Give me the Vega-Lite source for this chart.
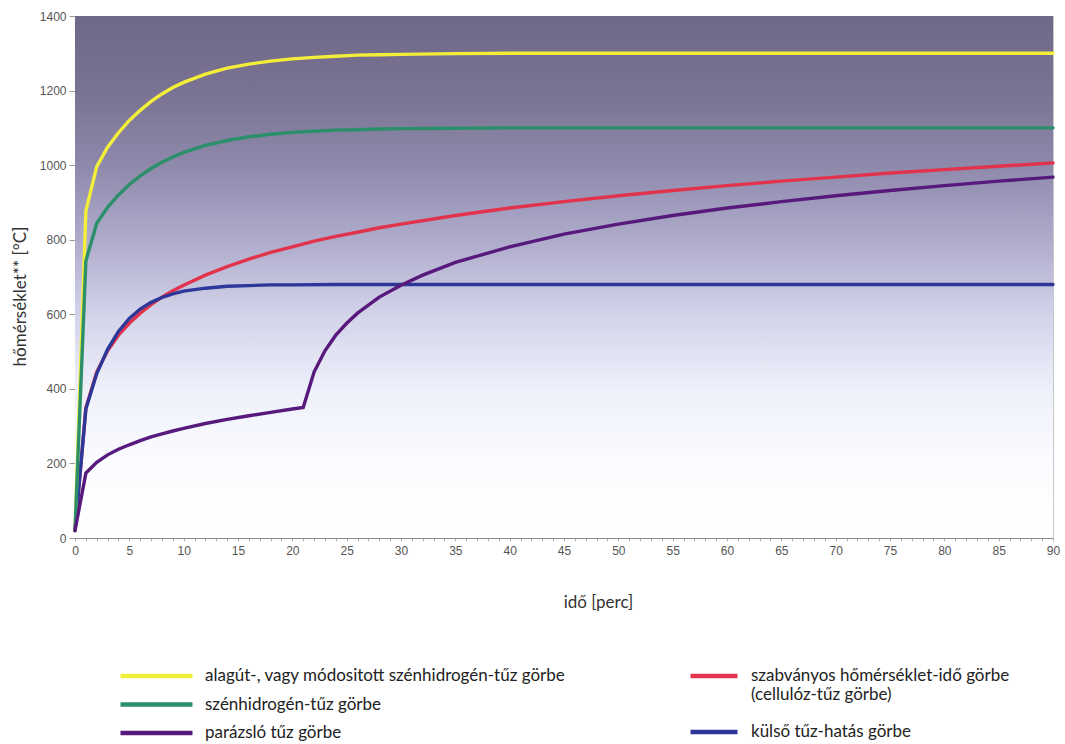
{
  "$schema": "https://vega.github.io/schema/vega-lite/v6.json",
  "width": 978,
  "height": 522,
  "autosize": "none",
  "padding": {"left": 75, "top": 16, "right": 12, "bottom": 206},
  "background": "white",
  "config": {
    "view": {"stroke": "#c8c8c8"},
    "axis": {"labelFont": "Liberation Sans", "labelFontSize": 12, "labelColor": "#555555", "titleFont": "Lato", "titleFontSize": 17, "titleFontWeight": "normal", "titleColor": "#333333"}
  },
  "data": {"values": [
    {"s":"Y","t":0,"v":20},{"s":"Y","t":1,"v":877},{"s":"Y","t":2,"v":996},{"s":"Y","t":3,"v":1048},{"s":"Y","t":4,"v":1087},{"s":"Y","t":5,"v":1120},{"s":"Y","t":6,"v":1147},{"s":"Y","t":7,"v":1171},{"s":"Y","t":8,"v":1191},{"s":"Y","t":9,"v":1208},{"s":"Y","t":10,"v":1222},{"s":"Y","t":12,"v":1244},{"s":"Y","t":14,"v":1260},{"s":"Y","t":16,"v":1271},{"s":"Y","t":18,"v":1279},{"s":"Y","t":20,"v":1285},{"s":"Y","t":22,"v":1289},{"s":"Y","t":24,"v":1292},{"s":"Y","t":26,"v":1295},{"s":"Y","t":28,"v":1296},{"s":"Y","t":30,"v":1297},{"s":"Y","t":35,"v":1299},{"s":"Y","t":40,"v":1300},{"s":"Y","t":45,"v":1300},{"s":"Y","t":50,"v":1300},{"s":"Y","t":60,"v":1300},{"s":"Y","t":70,"v":1300},{"s":"Y","t":80,"v":1300},{"s":"Y","t":90,"v":1300},
    {"s":"G","t":0,"v":20},{"s":"G","t":1,"v":743},{"s":"G","t":2,"v":844},{"s":"G","t":3,"v":887},{"s":"G","t":4,"v":920},{"s":"G","t":5,"v":948},{"s":"G","t":6,"v":971},{"s":"G","t":7,"v":991},{"s":"G","t":8,"v":1008},{"s":"G","t":9,"v":1022},{"s":"G","t":10,"v":1034},{"s":"G","t":12,"v":1053},{"s":"G","t":14,"v":1066},{"s":"G","t":16,"v":1076},{"s":"G","t":18,"v":1083},{"s":"G","t":20,"v":1088},{"s":"G","t":22,"v":1091},{"s":"G","t":24,"v":1094},{"s":"G","t":26,"v":1095},{"s":"G","t":28,"v":1097},{"s":"G","t":30,"v":1098},{"s":"G","t":35,"v":1099},{"s":"G","t":40,"v":1100},{"s":"G","t":45,"v":1100},{"s":"G","t":50,"v":1100},{"s":"G","t":60,"v":1100},{"s":"G","t":70,"v":1100},{"s":"G","t":80,"v":1100},{"s":"G","t":90,"v":1100},
    {"s":"R","t":0,"v":20},{"s":"R","t":1,"v":349},{"s":"R","t":2,"v":445},{"s":"R","t":3,"v":502},{"s":"R","t":4,"v":544},{"s":"R","t":5,"v":576},{"s":"R","t":6,"v":603},{"s":"R","t":7,"v":626},{"s":"R","t":8,"v":646},{"s":"R","t":9,"v":663},{"s":"R","t":10,"v":678},{"s":"R","t":12,"v":705},{"s":"R","t":14,"v":728},{"s":"R","t":16,"v":748},{"s":"R","t":18,"v":766},{"s":"R","t":20,"v":781},{"s":"R","t":22,"v":796},{"s":"R","t":24,"v":809},{"s":"R","t":26,"v":820},{"s":"R","t":28,"v":832},{"s":"R","t":30,"v":842},{"s":"R","t":35,"v":865},{"s":"R","t":40,"v":885},{"s":"R","t":45,"v":902},{"s":"R","t":50,"v":918},{"s":"R","t":55,"v":932},{"s":"R","t":60,"v":945},{"s":"R","t":65,"v":957},{"s":"R","t":70,"v":968},{"s":"R","t":75,"v":979},{"s":"R","t":80,"v":988},{"s":"R","t":85,"v":997},{"s":"R","t":90,"v":1006},
    {"s":"B","t":0,"v":20},{"s":"B","t":1,"v":346},{"s":"B","t":2,"v":441},{"s":"B","t":3,"v":506},{"s":"B","t":4,"v":554},{"s":"B","t":5,"v":589},{"s":"B","t":6,"v":614},{"s":"B","t":7,"v":632},{"s":"B","t":8,"v":645},{"s":"B","t":9,"v":655},{"s":"B","t":10,"v":662},{"s":"B","t":12,"v":670},{"s":"B","t":14,"v":675},{"s":"B","t":16,"v":677},{"s":"B","t":18,"v":679},{"s":"B","t":20,"v":679},{"s":"B","t":24,"v":680},{"s":"B","t":30,"v":680},{"s":"B","t":40,"v":680},{"s":"B","t":50,"v":680},{"s":"B","t":60,"v":680},{"s":"B","t":70,"v":680},{"s":"B","t":80,"v":680},{"s":"B","t":90,"v":680},
    {"s":"P","t":0,"v":20},{"s":"P","t":1,"v":174},{"s":"P","t":2,"v":203},{"s":"P","t":3,"v":223},{"s":"P","t":4,"v":238},{"s":"P","t":5,"v":250},{"s":"P","t":6,"v":261},{"s":"P","t":7,"v":271},{"s":"P","t":8,"v":279},{"s":"P","t":9,"v":287},{"s":"P","t":10,"v":294},{"s":"P","t":12,"v":307},{"s":"P","t":14,"v":318},{"s":"P","t":16,"v":328},{"s":"P","t":18,"v":337},{"s":"P","t":20,"v":346},{"s":"P","t":21,"v":350},{"s":"P","t":22,"v":445},{"s":"P","t":23,"v":502},{"s":"P","t":24,"v":544},{"s":"P","t":25,"v":576},{"s":"P","t":26,"v":603},{"s":"P","t":28,"v":646},{"s":"P","t":30,"v":678},{"s":"P","t":32,"v":705},{"s":"P","t":35,"v":739},{"s":"P","t":40,"v":781},{"s":"P","t":45,"v":815},{"s":"P","t":50,"v":842},{"s":"P","t":55,"v":865},{"s":"P","t":60,"v":885},{"s":"P","t":65,"v":902},{"s":"P","t":70,"v":918},{"s":"P","t":75,"v":932},{"s":"P","t":80,"v":945},{"s":"P","t":85,"v":957},{"s":"P","t":90,"v":968}
  ]},
  "layer": [
    {
      "data": {"values": [{}]},
      "mark": {"type": "rect", "fill": {"gradient": "linear", "x1": 0, "y1": 0, "x2": 0, "y2": 1, "stops": [
        {"offset": 0, "color": "#6f6887"},
        {"offset": 0.144, "color": "#797292"},
        {"offset": 0.285, "color": "#8e89ab"},
        {"offset": 0.429, "color": "#aeabcb"},
        {"offset": 0.573, "color": "#d3d3ea"},
        {"offset": 0.716, "color": "#eef0fa"},
        {"offset": 0.858, "color": "#fbfcff"},
        {"offset": 1, "color": "#ffffff"}
      ]}},
      "encoding": {
        "x": {"datum": 0, "type": "quantitative", "title": "idő [perc]", "scale": {"domain": [0, 90], "nice": false},
          "axis": {"values": [0,1,2,3,4,5,6,7,8,9,10,11,12,13,14,15,16,17,18,19,20,21,22,23,24,25,26,27,28,29,30,31,32,33,34,35,36,37,38,39,40,41,42,43,44,45,46,47,48,49,50,51,52,53,54,55,56,57,58,59,60,61,62,63,64,65,66,67,68,69,70,71,72,73,74,75,76,77,78,79,80,81,82,83,84,85,86,87,88,89,90],
            "format": "d", "labelExpr": "datum.value % 5 === 0 ? datum.label : ''", "labelFlush": false, "labelOverlap": false, "labelBound": false, "grid": false, "tickSize": 3, "tickColor": "#b0b0b0", "domainColor": "#8a8a8a", "labelPadding": 4, "titleX": 523, "titleY": 56, "titleBaseline": "top", "titleAlign": "center"}},
        "x2": {"datum": 90},
        "y": {"datum": 0, "type": "quantitative", "title": "hőmérséklet** [°C]", "scale": {"domain": [0, 1400], "nice": false},
          "axis": {"values": [0,200,400,600,800,1000,1200,1400], "format": "d", "grid": true, "gridColor": "#3c3658", "gridOpacity": 0.3, "tickSize": 6, "tickColor": "#9a9a9a", "domainColor": "#7a7a7a", "labelPadding": 3, "titleX": -55, "titleY": 280, "titleBaseline": "middle", "titleAlign": "center", "titleAngle": -90}},
        "y2": {"datum": 1400}
      }
    },
    {
      "transform": [{"filter": {"field": "s", "oneOf": ["R", "B"]}}],
      "mark": {"type": "line", "strokeWidth": 3.4, "strokeCap": "round"},
      "encoding": {
        "x": {"field": "t", "type": "quantitative", "title": "idő [perc]", "scale": {"domain": [0, 90], "nice": false},
          "axis": {"values": [0,1,2,3,4,5,6,7,8,9,10,11,12,13,14,15,16,17,18,19,20,21,22,23,24,25,26,27,28,29,30,31,32,33,34,35,36,37,38,39,40,41,42,43,44,45,46,47,48,49,50,51,52,53,54,55,56,57,58,59,60,61,62,63,64,65,66,67,68,69,70,71,72,73,74,75,76,77,78,79,80,81,82,83,84,85,86,87,88,89,90],
            "format": "d", "labelExpr": "datum.value % 5 === 0 ? datum.label : ''", "labelFlush": false, "labelOverlap": false, "labelBound": false, "grid": false, "tickSize": 3, "tickColor": "#b0b0b0", "domainColor": "#8a8a8a", "labelPadding": 4, "titleX": 523, "titleY": 56, "titleBaseline": "top", "titleAlign": "center"}},
        "y": {"field": "v", "type": "quantitative", "title": "hőmérséklet** [°C]", "scale": {"domain": [0, 1400], "nice": false},
          "axis": {"values": [0,200,400,600,800,1000,1200,1400], "format": "d", "grid": true, "gridColor": "#3c3658", "gridOpacity": 0.3, "tickSize": 6, "tickColor": "#9a9a9a", "domainColor": "#7a7a7a", "labelPadding": 3, "titleX": -55, "titleY": 280, "titleBaseline": "middle", "titleAlign": "center", "titleAngle": -90}},
        "color": {"field": "s", "type": "nominal", "scale": {"domain": ["R", "B"], "range": ["#e2334c", "#2d3799"]},
          "legend": {"title": null, "orient": "none", "legendX": 613, "legendY": 649, "direction": "vertical", "symbolType": "stroke", "symbolSize": 2209, "symbolStrokeWidth": 4.5, "clipHeight": 22, "rowPadding": 18, "padding": 0, "labelFont": "Lato", "labelFontSize": 17, "labelLineHeight": 21, "labelColor": "#222222", "labelOffset": 11, "labelLimit": 600,
            "labelExpr": "datum.label == 'R' ? ['szabványos hőmérséklet-idő görbe', '(cellulóz-tűz görbe)'] : 'külső tűz-hatás görbe'"}}
      }
    },
    {
      "transform": [{"filter": {"field": "s", "oneOf": ["Y", "G", "P"]}}],
      "mark": {"type": "line", "strokeWidth": 3.4, "strokeCap": "round"},
      "encoding": {
        "x": {"field": "t", "type": "quantitative", "title": "idő [perc]", "scale": {"domain": [0, 90], "nice": false},
          "axis": {"values": [0,1,2,3,4,5,6,7,8,9,10,11,12,13,14,15,16,17,18,19,20,21,22,23,24,25,26,27,28,29,30,31,32,33,34,35,36,37,38,39,40,41,42,43,44,45,46,47,48,49,50,51,52,53,54,55,56,57,58,59,60,61,62,63,64,65,66,67,68,69,70,71,72,73,74,75,76,77,78,79,80,81,82,83,84,85,86,87,88,89,90],
            "format": "d", "labelExpr": "datum.value % 5 === 0 ? datum.label : ''", "labelFlush": false, "labelOverlap": false, "labelBound": false, "grid": false, "tickSize": 3, "tickColor": "#b0b0b0", "domainColor": "#8a8a8a", "labelPadding": 4, "titleX": 523, "titleY": 56, "titleBaseline": "top", "titleAlign": "center"}},
        "y": {"field": "v", "type": "quantitative", "title": "hőmérséklet** [°C]", "scale": {"domain": [0, 1400], "nice": false},
          "axis": {"values": [0,200,400,600,800,1000,1200,1400], "format": "d", "grid": true, "gridColor": "#3c3658", "gridOpacity": 0.3, "tickSize": 6, "tickColor": "#9a9a9a", "domainColor": "#7a7a7a", "labelPadding": 3, "titleX": -55, "titleY": 280, "titleBaseline": "middle", "titleAlign": "center", "titleAngle": -90}},
        "color": {"field": "s", "type": "nominal", "scale": {"domain": ["Y", "G", "P"], "range": ["#f2ee3a", "#2b8f6a", "#57197c"]},
          "legend": {"title": null, "orient": "none", "legendX": 43, "legendY": 649, "direction": "vertical", "symbolType": "stroke", "symbolSize": 5184, "symbolStrokeWidth": 4.5, "clipHeight": 22, "rowPadding": 6.5, "padding": 0, "labelFont": "Lato", "labelFontSize": 17, "labelColor": "#222222", "labelOffset": 10, "labelLimit": 600,
            "labelExpr": "datum.label == 'Y' ? 'alagút-, vagy módositott szénhidrogén-tűz görbe' : datum.label == 'G' ? 'szénhidrogén-tűz görbe' : 'parázsló tűz görbe'"}}
      }
    }
  ],
  "resolve": {"scale": {"color": "independent"}}
}
